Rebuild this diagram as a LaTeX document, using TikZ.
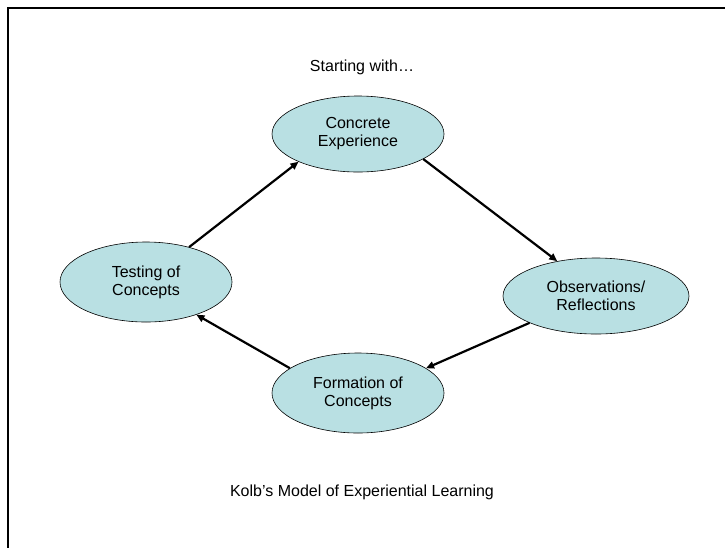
\documentclass[tikz,border=0pt]{standalone}
\usepackage{fontspec}
\setmainfont{Liberation Sans}
\usetikzlibrary{arrows.meta,positioning,shapes.geometric}
\definecolor{StageFill}{HTML}{B9E0E3}

\begin{document}
\begin{tikzpicture}[x=1pt,y=-1pt,font=\fontsize{16}{18}\selectfont,
      stage/.style={ellipse,draw=black,line width=0.6pt,fill=StageFill,
                    minimum width=172pt,minimum height=76pt,inner sep=1pt,
                    align=center},
      cycle/.style={-{Triangle[length=8pt,width=7pt]},line width=2.2pt}]
    \useasboundingbox (0,0) rectangle (725,547);
    % open frame: only the top and left edges fall inside the page
    \draw[line width=2.4pt] (8,560) -- (8,8) -- (740,8);

    \node (start) at (362,67) {Starting with\ldots};

    \node[stage] (concrete) at (358,134) {Concrete\\Experience};
    \node[stage,minimum width=186pt] (observe) at (596,296) {Observations/\\Reflections};
    \node[stage,minimum height=80pt] (formation) at (358,393) {Formation of\\Concepts};
    \node[stage,minimum height=80pt] (testing) at (146,282) {Testing of\\Concepts};

    \draw[cycle] (testing.39) -- (concrete.205);
    \draw[cycle] (concrete.-21) -- (observe.138);
    \draw[cycle] (observe.-158) -- (formation.20);
    \draw[cycle] (formation.160) -- (testing.-33);

    \node (caption) at (362,492) {Kolb’s Model of Experiential Learning};
\end{tikzpicture}
\end{document}
